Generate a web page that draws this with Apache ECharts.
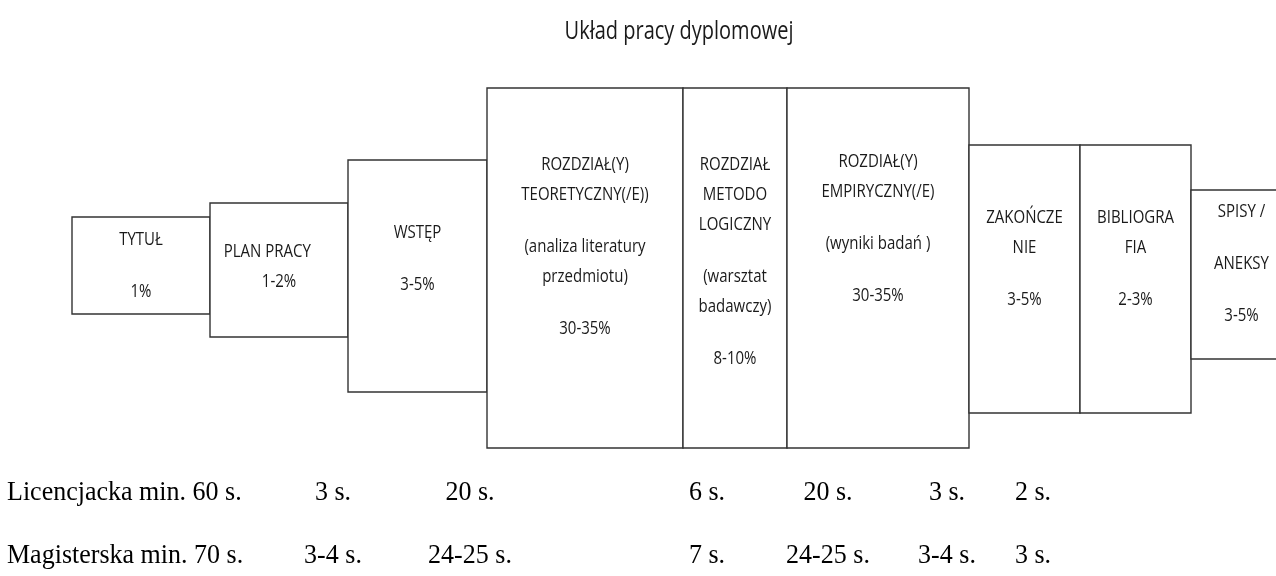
<!DOCTYPE html>
<html>
<head>
<meta charset="utf-8">
<script src="https://cdn.jsdelivr.net/npm/echarts@6/dist/echarts.min.js"></script>
<style>html,body{margin:0;padding:0;background:#fff}#c{width:1276px;height:576px}</style>
</head>
<body>
<div id="c"></div>
<script>
// ---- data ----
const chartTitle = 'Układ pracy dyplomowej';
// lines of text in each box ('' = paragraph gap)
const boxLines = [
  ['TYTUŁ', '', '1%'],
  ['PLAN PRACY      ', '1-2%'],
  ['WSTĘP', '', '3-5%'],
  ['ROZDZIAŁ(Y)', 'TEORETYCZNY(/E))', '', '(analiza literatury', 'przedmiotu)', '', '30-35%'],
  ['ROZDZIAŁ', 'METODO', 'LOGICZNY', '', '(warsztat', 'badawczy)', '', '8-10%'],
  ['ROZDIAŁ(Y)', 'EMPIRYCZNY(/E)', '', '(wyniki badań )', '', '30-35%'],
  ['ZAKOŃCZE', 'NIE', '', '3-5%'],
  ['BIBLIOGRA', 'FIA', '', '2-3%'],
  ['SPISY /', '', 'ANEKSY', '', '3-5%']
];
// box extents (diagram units)
const boxLeft   = [72, 210, 348, 487, 683, 787, 969, 1080, 1191];
const boxRight  = [210, 348, 487, 683, 787, 969, 1080, 1191, 1292];
const boxTop    = [217, 203, 160, 88, 88, 88, 145, 145, 190];
const boxBottom = [314, 337, 392, 448, 448, 448, 413, 413, 359];
const textTop   = [240, 252, 233, 165, 165, 162, 218, 218, 212];

const rowLabels = ['Licencjacka min. 60 s.', 'Magisterska min. 70 s.'];
const licencjacka = ['3 s.', '20 s.', '6 s.', '20 s.', '3 s.', '2 s.'];
const magisterska = ['3-4 s.', '24-25 s.', '7 s.', '24-25 s.', '3-4 s.', '3 s.'];
const columnCenter = [333, 470, 707, 828, 947, 1033];
const rowY = [493, 556];
const rowLabelX = 7;

// ---- chart ----
const LINE_STEP = 30, GAP_STEP = 22;
const boxFont = '500 15px "Open Sans", sans-serif';
const serifFont = '26px "Liberation Serif", "Times New Roman", serif';
const STRETCH = 1.25;

const boxData = boxLines.map((l, i) => [boxLeft[i], boxRight[i], boxTop[i], boxBottom[i], textTop[i], i]);
const rowData = [];
[licencjacka, magisterska].forEach((row, r) => {
  rowData.push([rowLabelX, rowY[r], rowLabels[r], 'left']);
  row.forEach((t, c) => rowData.push([columnCenter[c], rowY[r], t, 'center']));
});

const chart = echarts.init(document.getElementById('c'), null, {renderer: 'canvas'});
chart.setOption({
  backgroundColor: '#ffffff',
  animation: false,
  grid: {left: 0, right: 0, top: 0, bottom: 0},
  xAxis: {type: 'value', min: 0, max: 1276, show: false},
  yAxis: {type: 'value', min: 0, max: 576, inverse: true, show: false},
  graphic: [{
    type: 'text', x: 679, y: 32, scaleY: STRETCH, originX: 0, originY: 0,
    style: {text: chartTitle, font: '500 20px "Open Sans", sans-serif', fill: '#1a1a1a', align: 'center', verticalAlign: 'middle'}
  }],
  series: [
    {
      type: 'custom',
      clip: false,
      data: boxData,
      renderItem: function (params, api) {
        const p1 = api.coord([api.value(0), api.value(2)]);
        const p2 = api.coord([api.value(1), api.value(3)]);
        const ty = api.coord([0, api.value(4)])[1];
        const idx = api.value(5);
        const cx = (p1[0] + p2[0]) / 2;
        const children = [{
          type: 'rect',
          shape: {x: p1[0], y: p1[1], width: p2[0] - p1[0], height: p2[1] - p1[1]},
          style: {fill: '#fff', stroke: '#333', lineWidth: 1.4}
        }];
        let y = ty;
        boxLines[idx].forEach((line, k) => {
          if (line === '') { y += GAP_STEP; return; }
          children.push({
            type: 'text',
            x: cx, y: y, scaleY: STRETCH,
            style: {x: 0, y: 0, text: line, font: boxFont, fill: '#1a1a1a', align: 'center', verticalAlign: 'middle'}
          });
          y += LINE_STEP;
        });
        return {type: 'group', children: children};
      }
    },
    {
      type: 'custom',
      clip: false,
      data: rowData,
      renderItem: function (params, api) {
        const d = rowData[params.dataIndex];
        const p = api.coord([d[0], d[1]]);
        return {
          type: 'text',
          x: p[0], y: p[1], scaleY: 1.05,
          style: {x: 0, y: 0, text: d[2], font: serifFont, fill: '#000', align: d[3], verticalAlign: 'middle'}
        };
      }
    }
  ]
});
</script>
</body>
</html>
